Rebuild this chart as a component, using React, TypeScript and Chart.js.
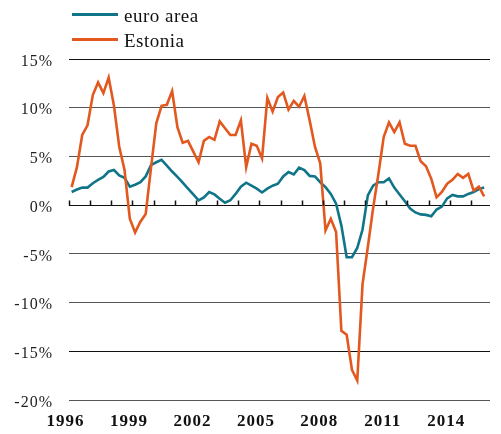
import React, { useEffect, useRef } from 'react';
import { Chart, registerables } from 'chart.js';

Chart.register(...registerables);

// ---- data ----
const FIRST_YEAR = 1996;
const AXIS_MIN = 1996;
const AXIS_MAX = 2015.9;
const TICK_YEARS = [1996, 1997, 1998, 1999, 2000, 2001, 2002, 2003, 2004, 2005, 2006, 2007, 2008, 2009, 2010, 2011, 2012, 2013, 2014, 2015];
const LABEL_YEARS = [1996, 1999, 2002, 2005, 2008, 2011, 2014];
const Y_MIN = -20;
const Y_MAX = 15;
const Y_STEP = 5;
const SERIES_NAMES = ['euro area', 'Estonia'];
const SERIES_COLORS = ['#107589', '#e2581f'];

// quarterly, 1996Q1 .. 2015Q3
const euroArea = [
  1.35, 1.6, 1.8, 1.8, 2.25, 2.6, 2.9, 3.45, 3.6, 3.05,
  2.8, 1.9, 2.1, 2.35, 2.95, 4.1, 4.4, 4.65, 4.05, 3.45,
  2.9, 2.3, 1.7, 1.1, 0.5, 0.8, 1.35, 1.1, 0.65, 0.25,
  0.5, 1.15, 1.9, 2.3, 2.0, 1.7, 1.3, 1.7, 2.0, 2.2,
  2.95, 3.4, 3.15, 3.85, 3.6, 3.0, 2.95, 2.35, 1.85, 1.15,
  0.15, -2.1, -5.35, -5.35, -4.4, -2.5, 1.0, 2.0, 2.35, 2.35,
  2.75, 1.8, 1.1, 0.4, -0.35, -0.75, -0.95, -1.0, -1.15, -0.45,
  -0.15, 0.7, 1.05, 0.9, 0.9, 1.15, 1.35, 1.65, 1.8,
];

const estonia = [
  1.85, 3.9, 7.2, 8.2, 11.3, 12.6, 11.5, 13.1, 10.2, 6.0,
  3.6, -1.4, -2.8, -1.7, -0.9, 3.8, 8.4, 10.2, 10.3, 11.7,
  8.0, 6.4, 6.6, 5.5, 4.4, 6.6, 7.0, 6.7, 8.6, 7.9,
  7.2, 7.2, 8.7, 3.9, 6.3, 6.1, 4.8, 11.0, 9.6, 11.1,
  11.55, 9.8, 10.7, 10.1, 11.2, 8.7, 6.0, 4.3, -2.6, -1.4,
  -2.75, -12.9, -13.3, -16.9, -18.0, -8.1, -4.3, -0.3, 3.2, 7.0,
  8.5, 7.5, 8.5, 6.3, 6.1, 6.1, 4.5, 4.0, 2.7, 0.8,
  1.35, 2.2, 2.6, 3.2, 2.8, 3.2, 1.5, 1.9, 0.9,
];

const quarterX = (i: number) => FIRST_YEAR + (i + 0.5) / 4;
const toPoints = (vals: number[]) => vals.map((v, i) => ({ x: quarterX(i), y: v }));

const FONT = "'Liberation Serif', 'Times New Roman', serif";

const letterSpacingPlugin = {
  id: 'letterSpacing',
  beforeDraw(chart: any) {
    (chart.ctx as any).letterSpacing = '1px';
  },
  afterDraw(chart: any) {
    (chart.ctx as any).letterSpacing = '0px';
  },
};

const zeroTicksPlugin = {
  id: 'zeroTicks',
  afterDatasetsDraw(chart: any) {
    const { ctx, scales } = chart;
    const xs = scales.x;
    const ys = scales.y;
    const y0 = Math.round(ys.getPixelForValue(0)) + 0.5;
    ctx.save();
    ctx.strokeStyle = '#111';
    ctx.lineWidth = 1.5;
    ctx.beginPath();
    TICK_YEARS.forEach((yr) => {
      const px = Math.round(xs.getPixelForValue(yr)) + 0.5;
      ctx.moveTo(px, y0);
      ctx.lineTo(px, y0 - 5);
    });
    ctx.stroke();
    ctx.restore();
  },
};

export default function App() {
  const ref = useRef<HTMLCanvasElement | null>(null);

  useEffect(() => {
    if (!ref.current) return;
    const chart = new Chart(ref.current, {
      type: 'line',
      data: {
        datasets: [
          {
            label: SERIES_NAMES[0],
            data: toPoints(euroArea),
            borderColor: SERIES_COLORS[0],
            backgroundColor: SERIES_COLORS[0],
            borderWidth: 2.6,
            pointRadius: 0,
            tension: 0,
            order: 1,
          },
          {
            label: SERIES_NAMES[1],
            data: toPoints(estonia),
            borderColor: SERIES_COLORS[1],
            backgroundColor: SERIES_COLORS[1],
            borderWidth: 2.6,
            pointRadius: 0,
            tension: 0,
            order: 0,
          },
        ],
      },
      options: {
        animation: false,
        responsive: false,
        layout: { padding: { top: 59, left: 0, right: 0, bottom: 0 } },
        plugins: { legend: { display: false }, tooltip: { enabled: false } },
        scales: {
          x: {
            type: 'linear',
            min: AXIS_MIN,
            max: AXIS_MAX,
            afterFit: (s: any) => { s.height = 34; },
            grid: { display: false, drawTicks: false },
            border: { display: false },
            ticks: {
              stepSize: 1,
              autoSkip: false,
              maxRotation: 0,
              padding: 11,
              labelOffset: -3.5,
              color: '#111',
              font: { family: FONT, size: 17, weight: 'bold' },
              callback: (v: any) => {
                const n = Number(v);
                const r = Math.round(n);
                if (Math.abs(n - r) > 1e-6) return '';
                return LABEL_YEARS.includes(r) ? String(r) : '';
              },
            },
          },
          y: {
            min: Y_MIN,
            max: Y_MAX,
            afterFit: (s: any) => { s.width = 69; },
            grid: {
              drawTicks: false,
              color: (c: any) => (c.tick && c.tick.value % 15 === 0 ? '#111' : '#555'),
              lineWidth: 1,
            },
            border: { display: false },
            ticks: {
              stepSize: Y_STEP,
              padding: 16,
              labelOffset: 2.5,
              color: '#222',
              font: { family: FONT, size: 16 },
              callback: (v: any) => `${v}%`,
            },
          },
        },
      },
      plugins: [letterSpacingPlugin, zeroTicksPlugin],
    });
    return () => chart.destroy();
  }, []);

  const legendItem = (i: number, top: number) => (
    <div key={i} style={{ position: 'absolute', left: 72, top, height: 22 }}>
      <div style={{ position: 'absolute', left: 0, top: 6, width: 46, height: 3, background: SERIES_COLORS[i] }} />
      <span style={{ position: 'absolute', left: 52, top: -1, fontFamily: FONT, fontSize: 19, lineHeight: '19px', color: '#111', whiteSpace: 'nowrap', letterSpacing: '0.5px' }}>
        {SERIES_NAMES[i]}
      </span>
    </div>
  );

  return (
    <div style={{ position: 'absolute', left: 0, top: 0, width: 501, height: 434, background: '#fff' }}>
      <canvas ref={ref} width={501} height={434} style={{ position: 'absolute', left: 0, top: 0 }} />
      {legendItem(0, 7)}
      {legendItem(1, 31.5)}
    </div>
  );
}
